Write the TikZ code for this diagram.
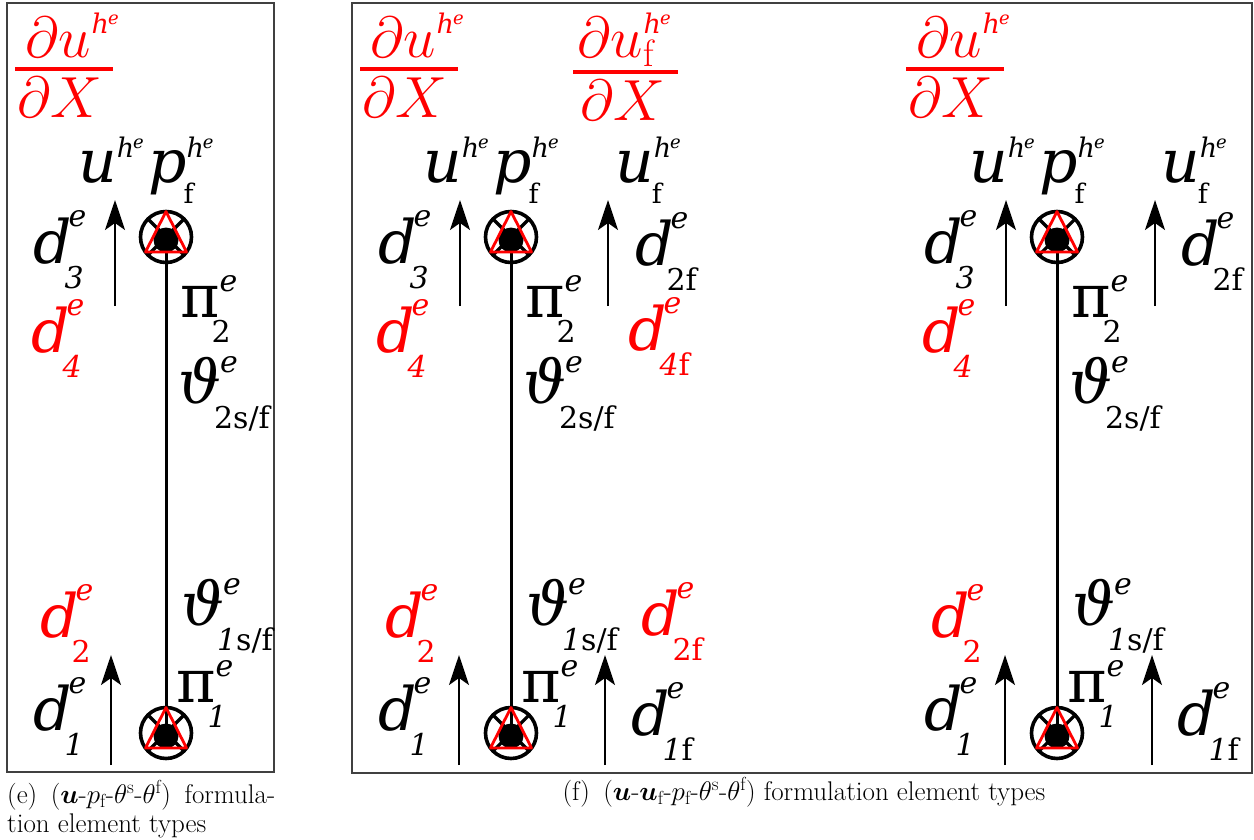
\RequirePackage{fix-cm}
\documentclass[tikz,border=0pt]{standalone}
\usepackage{amsmath}
\usepackage{fontspec}
\usetikzlibrary{arrows.meta}
\newfontfamily\lf{DejaVu Serif}
\newcommand\Lbl[5]{\mbox{{#1}\rlap{\raisebox{#4}{#2}}\raisebox{-#5}{#3}}}
\newcommand\sps[1]{{\fontsize{30}{30}\selectfont\itshape #1}}
\newcommand\sbs[1]{{\fontsize{30}{30}\selectfont #1}}
\newcommand\hsup{{\fontsize{27}{27}\selectfont\itshape h\kern-1pt\raisebox{9pt}{\fontsize{18}{18}\selectfont e}}}
\newcommand\fsub{{\fontsize{27}{27}\selectfont f}}
% label makers
\newcommand\dL[1]{\Lbl{\itshape d}{\kern-3pt\sps{e}}{\kern-7pt\sbs{#1}}{37pt}{25pt}}
\newcommand\piL[1]{\Lbl{π}{\kern0pt\sps{e}}{\kern-8pt\sbs{#1}}{26pt}{25pt}}
\newcommand\thL[1]{\Lbl{\itshape ϑ}{\kern-1pt\sps{e}}{\kern-7pt\sbs{#1}}{31pt}{25pt}}
\newcommand\uL{\Lbl{\itshape u}{\kern0pt\hsup}{}{25pt}{0pt}}
\newcommand\ufL{\Lbl{\itshape u}{\kern0pt\hsup}{\kern-2pt\fsub}{25pt}{21pt}}
\newcommand\pL{\Lbl{\itshape p}{\kern0pt\hsup}{\kern-3pt\fsub}{25pt}{21pt}}
% fraction numerators
\newcommand\numU{$\partial u$\kern1pt\raisebox{24pt}{\lf\hsup}}
\newcommand\numUf{$\partial u$\kern1pt\rlap{\raisebox{24pt}{\lf\hsup}}\raisebox{-9pt}{\fontsize{38}{38}\selectfont f}}
\tikzset{
  x=1pt, y=-1pt,
  lab/.style={anchor=base west, inner sep=0pt, font=\lf\fontsize{60}{64}\selectfont},
  fr/.style={anchor=base west, inner sep=0pt, text=red, font=\fontsize{58}{60}\selectfont},
  bar/.style={red, line width=4pt},
  arr/.style={line width=2pt, -{Stealth[length=30pt,width=20pt,inset=7pt]}},
  rod/.style={line width=3pt},
  frame/.style={black!75, line width=1.3pt},
  captxt/.style={inner sep=0pt, font=\fontsize{27}{29}\selectfont},
  sym/.pic={
    \draw[line width=3.6pt] (0,0) circle (25.5pt);
    \draw[line width=3.2pt] (-18,-18)--(18,18) (18,-18)--(-18,18);
    \fill (0,3) circle (12.5pt);
    \draw[red, line width=2.8pt, line join=round] (0,-25.5)--(20.5,15)--(-20.5,15)--cycle;
  }
}
\begin{document}
\begin{tikzpicture}
\useasboundingbox (0,0) rectangle (1254,839);
% frames
\draw[frame] (7,3) rectangle (274,772);
\draw[frame] (352,3) rectangle (1252,773);

% ===== element (e) =====
\coordinate (eT) at (166,237);
\coordinate (eB) at (166,733);
\draw[rod] (eT) -- (eB);
\pic at (eT) {sym};
\pic at (eB) {sym};
\coordinate (eA1s) at (115,306); \coordinate (eA1t) at (115,200);
\coordinate (eA2s) at (111,765); \coordinate (eA2t) at (111,655);
\draw[arr] (eA1s) -- (eA1t);
\draw[arr] (eA2s) -- (eA2t);
\node[fr] (eFn) at (25,57) {\numU};
\coordinate (eFa) at (15,69); \coordinate (eFb) at (113,69);
\draw[bar] (eFa) -- (eFb);
\node[fr] (eFd) at (17,117) {$\partial X$};
\node[lab] (eU) at (78,182) {\uL};
\node[lab] (eP) at (148,182) {\pL};
\node[lab] (eD3) at (33,263) {\dL{\itshape 3}};
\node[lab,text=red] (eD4) at (31,352) {\dL{\itshape 4}};
\node[lab] (ePi2) at (180,317) {\piL{2}};
\node[lab] (eTh2) at (178,403) {\thL{2s/f}};
\node[lab] (eTh1) at (181,625) {\thL{{\itshape 1}s/f}};
\node[lab] (ePi1) at (176,702) {\piL{\itshape 1}};
\node[lab,text=red] (eD2) at (40,637) {\dL{2}};
\node[lab] (eD1) at (33,730) {\dL{\itshape 1}};

% ===== element (f) 1 =====
\coordinate (fT) at (511,237);
\coordinate (fB) at (511,733);
\draw[rod] (fT) -- (fB);
\pic at (fT) {sym};
\pic at (fB) {sym};
\coordinate (fA1s) at (460,306); \coordinate (fA1t) at (460,200);
\coordinate (fA2s) at (459,765); \coordinate (fA2t) at (459,655);
\coordinate (fA3s) at (608,306); \coordinate (fA3t) at (608,200);
\coordinate (fA4s) at (605,765); \coordinate (fA4t) at (605,655);
\draw[arr] (fA1s) -- (fA1t);
\draw[arr] (fA2s) -- (fA2t);
\draw[arr] (fA3s) -- (fA3t);
\draw[arr] (fA4s) -- (fA4t);
\node[fr] (fFn) at (370,57) {\numU};
\coordinate (fFa) at (360,69); \coordinate (fFb) at (458,69);
\draw[bar] (fFa) -- (fFb);
\node[fr] (fFd) at (362,117) {$\partial X$};
\node[fr] (fGn) at (577,57) {\numUf};
\coordinate (fGa) at (573,72); \coordinate (fGb) at (678,72);
\draw[bar] (fGa) -- (fGb);
\node[fr] (fGd) at (580,120) {$\partial X$};
\node[lab] (fU) at (423,182) {\uL};
\node[lab] (fP) at (493,182) {\pL};
\node[lab] (fUf) at (615,182) {\ufL};
\node[lab] (fD3) at (378,263) {\dL{\itshape 3}};
\node[lab] (fD2f) at (635,265) {\dL{2f}};
\node[lab,text=red] (fD4) at (376,352) {\dL{\itshape 4}};
\node[lab,text=red] (fD4f) at (628,350) {\dL{{\itshape 4}f}};
\node[lab] (fPi2) at (525,317) {\piL{2}};
\node[lab] (fTh2) at (523,403) {\thL{2s/f}};
\node[lab] (fTh1) at (526,625) {\thL{{\itshape 1}s/f}};
\node[lab] (fPi1) at (521,702) {\piL{\itshape 1}};
\node[lab,text=red] (fD2) at (385,637) {\dL{2}};
\node[lab,text=red] (fD2fr) at (641,635) {\dL{2f}};
\node[lab] (fD1) at (378,730) {\dL{\itshape 1}};
\node[lab] (fD1f) at (631,735) {\dL{{\itshape 1}f}};

% ===== element (f) 2 =====
\coordinate (gT) at (1057,237);
\coordinate (gB) at (1057,733);
\draw[rod] (gT) -- (gB);
\pic at (gT) {sym};
\pic at (gB) {sym};
\coordinate (gA1s) at (1006,306); \coordinate (gA1t) at (1006,200);
\coordinate (gA2s) at (1005,765); \coordinate (gA2t) at (1005,655);
\coordinate (gA3s) at (1155,306); \coordinate (gA3t) at (1155,200);
\coordinate (gA4s) at (1152,765); \coordinate (gA4t) at (1152,655);
\draw[arr] (gA1s) -- (gA1t);
\draw[arr] (gA2s) -- (gA2t);
\draw[arr] (gA3s) -- (gA3t);
\draw[arr] (gA4s) -- (gA4t);
\node[fr] (gFn) at (916,57) {\numU};
\coordinate (gFa) at (906,69); \coordinate (gFb) at (1004,69);
\draw[bar] (gFa) -- (gFb);
\node[fr] (gFd) at (908,117) {$\partial X$};
\node[lab] (gU) at (969,182) {\uL};
\node[lab] (gP) at (1039,182) {\pL};
\node[lab] (gUf) at (1161,182) {\ufL};
\node[lab] (gD3) at (924,263) {\dL{\itshape 3}};
\node[lab] (gD2f) at (1181,265) {\dL{2f}};
\node[lab,text=red] (gD4) at (922,352) {\dL{\itshape 4}};
\node[lab] (gPi2) at (1071,317) {\piL{2}};
\node[lab] (gTh2) at (1069,403) {\thL{2s/f}};
\node[lab] (gTh1) at (1072,625) {\thL{{\itshape 1}s/f}};
\node[lab] (gPi1) at (1067,702) {\piL{\itshape 1}};
\node[lab,text=red] (gD2) at (931,637) {\dL{2}};
\node[lab] (gD1) at (924,730) {\dL{\itshape 1}};
\node[lab] (gD1f) at (1177,735) {\dL{{\itshape 1}f}};

% captions
\node[captxt, anchor=north west, text width=268pt, align=justify] (capE) at (7,780)
  {(e)\enspace($\boldsymbol{u}$-$p_{\mathrm{f}}$-$\theta^{\mathrm{s}}$-$\theta^{\mathrm{f}}$) formula-\linebreak tion element types};
\node[captxt, anchor=base] (capF) at (804,800)
  {(f)\enspace($\boldsymbol{u}$-$\boldsymbol{u}_{\mathrm{f}}$-$p_{\mathrm{f}}$-$\theta^{\mathrm{s}}$-$\theta^{\mathrm{f}}$) formulation element types};
\end{tikzpicture}
\end{document}
